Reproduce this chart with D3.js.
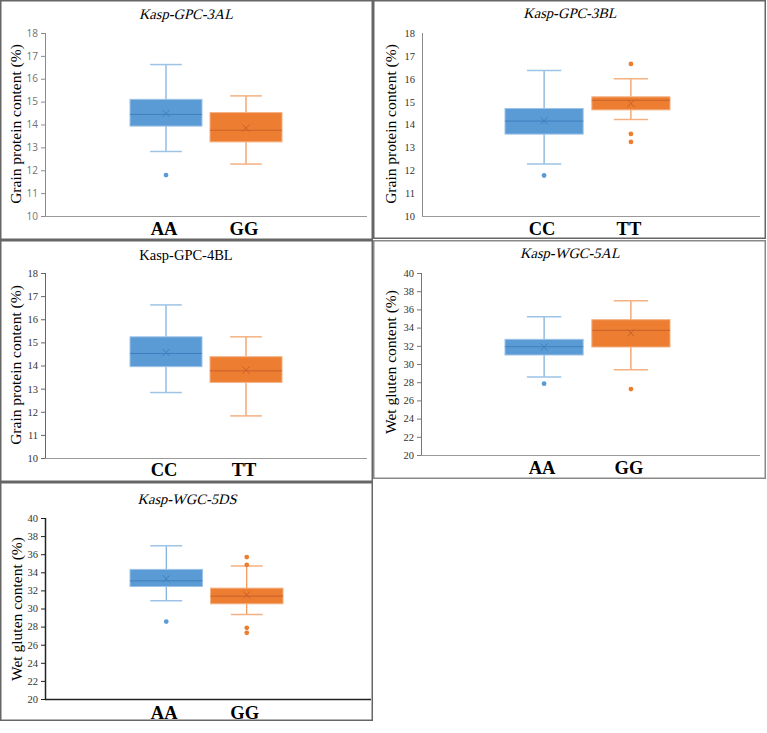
<!DOCTYPE html>
<html lang="en">
<head>
<meta charset="UTF-8" />
<title>Kasp marker box plots</title>
<style>
body { margin: 0; background: #fff; }
svg { display: block; }
</style>
</head>
<body>
<svg id="chart" width="767" height="733"></svg>
<script src="https://cdn.jsdelivr.net/npm/d3@7/dist/d3.min.js"></script>
<script>
// ---- data ----
const panelTitles = ["Kasp-GPC-3AL", "Kasp-GPC-3BL", "Kasp-GPC-4BL", "Kasp-WGC-5AL", "Kasp-WGC-5DS"];
const yLabels = ["Grain protein content (%)", "Grain protein content (%)", "Grain protein content (%)",
                 "Wet gluten content (%)", "Wet gluten content (%)"];
const genotypes = [["AA", "GG"], ["CC", "TT"], ["CC", "TT"], ["AA", "GG"], ["AA", "GG"]];
const gpcTicks = [10, 11, 12, 13, 14, 15, 16, 17, 18];
const wgcTicks = [20, 22, 24, 26, 28, 30, 32, 34, 36, 38, 40];

// [lower whisker, Q1, median, Q3, upper whisker, mean]
const stats3AL = [[12.82, 13.93, 14.44, 15.10, 16.62, 14.48], [12.27, 13.24, 13.75, 14.52, 15.25, 13.84]];
const stats3BL = [[12.27, 13.58, 14.15, 14.70, 16.36, 14.16], [14.22, 14.64, 15.06, 15.21, 16.00, 14.92]];
const stats4BL = [[12.83, 13.95, 14.52, 15.24, 16.62, 14.56], [11.82, 13.27, 13.77, 14.38, 15.24, 13.80]];
const stats5AL = [[28.57, 30.99, 31.90, 32.71, 35.20, 31.87], [29.38, 31.87, 33.70, 34.87, 36.96, 33.41]];
const stats5DS = [[30.85, 32.43, 33.06, 34.32, 36.94, 33.28], [29.34, 30.52, 31.37, 32.25, 34.69, 31.51]];

const outl3AL = [[11.79], []];
const outl3BL = [[11.77], [16.65, 13.59, 13.24]];
const outl4BL = [[], []];
const outl5AL = [[27.84], [27.25]];
const outl5DS = [[28.56], [35.68, 34.83, 27.86, 27.31]];

const allStats = [stats3AL, stats3BL, stats4BL, stats5AL, stats5DS];
const allOutl = [outl3AL, outl3BL, outl4BL, outl5AL, outl5DS];
const allTicks = [gpcTicks, gpcTicks, gpcTicks, wgcTicks, wgcTicks];

// ---- layout ----
const fill = ["#5b9bd5", "#ed7d31"];
const dark = ["#3f7fbf", "#c8612a"];
const light = ["#9dc3e6", "#f4b183"];
const serif = "'Liberation Serif', 'Times New Roman', serif";

const panels = [
  { x: 0,   y: 0,   w: 373, h: 240, ax: 45, top: 33, bot: 216, right: 367, bx: [130, 282], lab: 235, ttl: 19, tx: 186, tItal: true, yl: [21, 124], sans: true, tick: 4, axisC: "#8c8c8c", frameC: "#666" },
  { x: 373, y: 0,   w: 393, h: 239, ax: 49, top: 33, bot: 216, right: 387, bx: [132, 297], lab: 235, ttl: 18, tx: 197, tItal: true, yl: [23, 124], sans: false, tick: 0, axisC: "#8c8c8c", frameC: "#666" },
  { x: 0,   y: 240, w: 373, h: 242, ax: 45, top: 33, bot: 218, right: 367, bx: [130, 282], lab: 236, ttl: 20, tx: 186, tItal: false, yl: [21, 125], sans: false, tick: 4, axisC: "#666", frameC: "#666" },
  { x: 373, y: 240, w: 393, h: 239, ax: 48, top: 33, bot: 215, right: 387, bx: [132, 297], lab: 234, ttl: 18, tx: 197, tItal: true, yl: [23, 122], sans: false, tick: 4, axisC: "#777", frameC: "#888" },
  { x: 0,   y: 482, w: 373, h: 239, ax: 45, top: 36, bot: 217, right: 371, bx: [130, 283], lab: 237, ttl: 22, tx: 187, tItal: true, yl: [22, 127], sans: false, tick: 4, axisC: "#222", frameC: "#666" }
];

const svg = d3.select("#chart");

panels.forEach((p, i) => {
  const g = svg.append("g").attr("transform", `translate(${p.x},${p.y})`);
  const ticks = allTicks[i];

  g.append("rect").attr("x", 0.75).attr("y", 0.75).attr("width", p.w - 1.5).attr("height", p.h - 1.5)
    .attr("fill", "none").attr("stroke", p.frameC).attr("stroke-width", 1.5);

  const y = d3.scaleLinear().domain(d3.extent(ticks)).range([p.bot, p.top]);
  const x = d3.scaleBand().domain(genotypes[i]).range(p.bx).paddingInner(0.1);

  // y axis
  const yAxis = g.append("g").attr("transform", `translate(${p.ax},0)`)
    .call(d3.axisLeft(y).tickValues(ticks).tickSize(p.tick).tickPadding(p.tick ? 3 : 7).tickFormat(d3.format("d")));
  yAxis.select(".domain").attr("stroke", p.axisC).attr("stroke-width", i === 4 ? 1.5 : 1)
    .attr("d", `M0.5,${p.top}V${p.bot}`);
  yAxis.selectAll(".tick line").attr("stroke", p.axisC);
  yAxis.selectAll(".tick text")
    .attr("font-family", p.sans ? "'Open Sans', 'Liberation Sans', sans-serif" : serif)
    .attr("font-size", p.sans ? 10 : 10.5)
    .attr("fill", p.sans ? "#707070" : "#333");

  // x axis line
  g.append("line").attr("x1", p.ax).attr("x2", p.right).attr("y1", p.bot + 0.5).attr("y2", p.bot + 0.5)
    .attr("stroke", i === 4 ? "#222" : "#9a9a9a").attr("stroke-width", i === 4 ? 1.5 : 1);

  // boxes
  const stats = allStats[i];
  genotypes[i].forEach((k, j) => {
    const [lo, q1, med, q3, hi, mean] = stats[j];
    const bx = x(k), bw = x.bandwidth(), cx = bx + bw / 2, cap = bw * 0.22;
    const bg = g.append("g");
    bg.append("line").attr("x1", cx).attr("x2", cx).attr("y1", y(hi)).attr("y2", y(q3))
      .attr("stroke", fill[j]).attr("stroke-width", 1);
    bg.append("line").attr("x1", cx).attr("x2", cx).attr("y1", y(q1)).attr("y2", y(lo))
      .attr("stroke", fill[j]).attr("stroke-width", 1);
    [hi, lo].forEach(v => {
      bg.append("line").attr("x1", cx - cap).attr("x2", cx + cap).attr("y1", y(v)).attr("y2", y(v))
        .attr("stroke", light[j]).attr("stroke-width", 1.5);
    });
    bg.append("rect").attr("x", bx).attr("y", y(q3)).attr("width", bw).attr("height", y(q1) - y(q3))
      .attr("fill", fill[j]).attr("stroke", light[j]).attr("stroke-width", 1);
    bg.append("line").attr("x1", bx).attr("x2", bx + bw).attr("y1", y(med)).attr("y2", y(med))
      .attr("stroke", dark[j]).attr("stroke-width", 1);
    const my = y(mean), s = 3.5;
    bg.append("path").attr("d", `M${cx - s},${my - s}L${cx + s},${my + s}M${cx - s},${my + s}L${cx + s},${my - s}`)
      .attr("stroke", dark[j]).attr("stroke-width", 1).attr("fill", "none");
    bg.selectAll("circle.out").data(allOutl[i][j]).join("circle").attr("class", "out")
      .attr("cx", cx).attr("cy", d => y(d)).attr("r", 2.4).attr("fill", fill[j]);

    g.append("text").attr("x", cx - 2).attr("y", p.lab).attr("text-anchor", "middle")
      .attr("font-family", serif).attr("font-weight", "bold")
      .attr("font-size", 18.5).attr("fill", "#000").text(k);
  });

  // title (italic ones drawn as slanted regular type, as in the source figure)
  g.append("text").attr("transform", `translate(${p.tx},${p.ttl})` + (p.tItal ? " skewX(-14)" : ""))
    .attr("text-anchor", "middle")
    .attr("font-family", serif).attr("font-size", 14.5)
    .attr("fill", "#000").text(panelTitles[i]);

  // y label
  g.append("text").attr("transform", `translate(${p.yl[0]},${p.yl[1]}) rotate(-90)`).attr("text-anchor", "middle")
    .attr("font-family", serif).attr("font-size", 15.5)
    .attr("fill", "#000").text(yLabels[i]);
});
</script>
</body>
</html>
